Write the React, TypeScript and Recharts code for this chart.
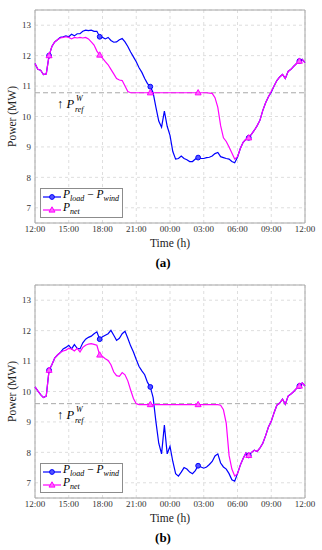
import React from "react";
import {
  LineChart,
  Line,
  XAxis,
  YAxis,
  CartesianGrid,
  ReferenceLine,
  ReferenceArea,
  Legend,
} from "recharts";

const SERIF = "'Liberation Serif', 'DejaVu Serif', serif";

// time axis: 12:00 (0 h) to 12:00 next day (24 h), 15 min steps
const hours = Array.from({ length: 97 }, (_, i) => i * 0.25);
const xTicks = [0, 3, 6, 9, 12, 15, 18, 21, 24];
const xTickLabels = ["12:00", "15:00", "18:00", "21:00", "00:00", "03:00", "06:00", "09:00", "12:00"];
const yTicks = [7, 8, 9, 10, 11, 12, 13];
const markerIdx = [5, 23, 41, 58, 76, 94];

// (a)
const loadA = [
  11.74, 11.55, 11.52, 11.38, 11.4, 12.0, 12.3, 12.45, 12.52, 12.6, 12.62, 12.65, 12.62,
  12.7, 12.65, 12.72, 12.72, 12.8, 12.84, 12.82, 12.84, 12.8, 12.8, 12.62, 12.6, 12.55,
  12.6, 12.5, 12.44, 12.45, 12.52, 12.56, 12.45, 12.3, 12.12, 11.96, 11.8, 11.6, 11.45,
  11.25, 11.08, 10.98, 10.78, 10.3, 9.85, 9.65, 10.18, 9.68, 9.38, 8.85, 8.6, 8.62, 8.7,
  8.62, 8.58, 8.52, 8.52, 8.6, 8.65, 8.62, 8.62, 8.65, 8.66, 8.7, 8.78, 8.82, 8.68, 8.65,
  8.62, 8.6, 8.52, 8.48, 8.66, 8.95, 9.15, 9.25, 9.3, 9.42, 9.55, 9.7, 9.88, 10.2, 10.45,
  10.65, 10.8, 11.0, 11.18, 11.3, 11.38, 11.25, 11.48, 11.55, 11.65, 11.74, 11.82, 11.88,
  11.77,
];
const netA = [
  11.74, 11.55, 11.52, 11.38, 11.4, 12.0, 12.3, 12.45, 12.52, 12.58, 12.6, 12.62, 12.6,
  12.55, 12.6, 12.58, 12.6, 12.58, 12.6, 12.55, 12.45, 12.35, 12.15, 12.02, 11.92, 11.8,
  11.7, 11.55, 11.4, 11.25, 11.2, 11.18, 11.0, 10.82, 10.78, 10.78, 10.78, 10.78, 10.78,
  10.78, 10.78, 10.78, 10.78, 10.78, 10.78, 10.78, 10.78, 10.78, 10.78, 10.78, 10.78,
  10.78, 10.78, 10.78, 10.78, 10.78, 10.78, 10.78, 10.78, 10.78, 10.78, 10.78, 10.77,
  10.76, 10.62, 10.3, 9.7, 9.3, 9.18, 9.0, 8.8, 8.6, 8.68, 8.95, 9.15, 9.25, 9.3, 9.42,
  9.55, 9.7, 9.88, 10.2, 10.45, 10.65, 10.82, 11.0, 11.18, 11.3, 11.38, 11.25, 11.48,
  11.55, 11.65, 11.74, 11.82, 11.88, 11.77,
];
const prefA = 10.78;

// (b)
const loadB = [
  10.15, 10.02, 9.9, 9.8, 9.85, 10.7, 10.88, 11.1, 11.2, 11.28, 11.4, 11.45, 11.52, 11.4,
  11.54, 11.42, 11.4, 11.6, 11.72, 11.78, 11.82, 11.9, 11.96, 11.72, 11.8, 11.85, 11.9,
  12.01, 11.85, 11.68, 11.75, 11.9, 11.98, 11.75, 11.5, 11.3, 11.05, 10.82, 10.68, 10.55,
  10.3, 10.15, 9.8, 9.0, 8.3, 7.95, 8.9, 7.95, 8.2, 7.7, 7.3, 7.22, 7.35, 7.5, 7.45, 7.35,
  7.3, 7.4, 7.56, 7.52, 7.48, 7.52, 7.6, 7.7, 7.88, 7.95, 7.65, 7.52, 7.45, 7.3, 7.1,
  7.05, 7.3, 7.58, 7.8, 7.98, 7.9, 8.0, 8.07, 8.03, 8.15, 8.3, 8.55, 8.83, 9.02, 9.3,
  9.55, 9.62, 9.75, 9.58, 9.85, 9.92, 10.0, 10.1, 10.18, 10.28, 10.18,
];
const netB = [
  10.15, 10.02, 9.9, 9.8, 9.85, 10.7, 10.88, 11.1, 11.2, 11.28, 11.33, 11.36, 11.42, 11.4,
  11.33, 11.42, 11.3, 11.45, 11.52, 11.56, 11.57, 11.55, 11.52, 11.2, 11.15, 11.08, 11.02,
  10.88, 10.64, 10.52, 10.5, 10.62, 10.55, 10.35, 10.05, 9.77, 9.6, 9.57, 9.57, 9.57,
  9.57, 9.57, 9.57, 9.57, 9.57, 9.57, 9.57, 9.57, 9.57, 9.57, 9.57, 9.57, 9.57, 9.57,
  9.57, 9.57, 9.57, 9.57, 9.57, 9.57, 9.57, 9.57, 9.57, 9.57, 9.57, 9.57, 9.55, 9.4,
  8.95, 7.9, 7.45, 7.22, 7.3, 7.58, 7.8, 7.98, 7.9, 8.0, 8.07, 8.03, 8.15, 8.3, 8.55,
  8.83, 9.02, 9.3, 9.55, 9.62, 9.75, 9.58, 9.85, 9.92, 10.0, 10.1, 10.18, 10.28, 10.18,
];
const prefB = 9.6;

const BLUE = "#0000ff";
const MAGENTA = "#ff00ff";

const circleDot = (props: any) => {
  const { cx, cy, index } = props;
  if (!markerIdx.includes(index)) return <g key={`c${index}`} />;
  return <circle key={`c${index}`} cx={cx} cy={cy} r={2.4} fill="#5555ff" stroke={BLUE} strokeWidth={1} />;
};

const triangleDot = (props: any) => {
  const { cx, cy, index } = props;
  if (!markerIdx.includes(index)) return <g key={`t${index}`} />;
  const pts = `${cx},${cy - 3.2} ${cx - 3},${cy + 2.1} ${cx + 3},${cy + 2.1}`;
  return <polygon key={`t${index}`} points={pts} fill="#ff66ff" stroke={MAGENTA} strokeWidth={1} />;
};

function LegendBox() {
  const row = { display: "flex", alignItems: "center", height: 13 };
  return (
    <div
      style={{
        border: "1px solid #8c8c8c",
        background: "#fff",
        padding: "1px 3px 1px 2px",
        fontFamily: SERIF,
        fontStyle: "italic",
        fontSize: 11.5,
        color: "#000",
        lineHeight: "13px",
        whiteSpace: "nowrap",
      }}
    >
      <div style={row}>
        <svg width={18} height={8} style={{ marginRight: 2 }}>
          <line x1={0} y1={4} x2={18} y2={4} stroke={BLUE} strokeWidth={1.2} />
          <circle cx={9} cy={4} r={2.4} fill="#5555ff" stroke={BLUE} />
        </svg>
        <span>
          P<sub style={{ fontSize: 8 }}>load</sub>
          <span style={{ fontStyle: "normal" }}> − </span>P<sub style={{ fontSize: 8 }}>wind</sub>
        </span>
      </div>
      <div style={row}>
        <svg width={18} height={8} style={{ marginRight: 2 }}>
          <line x1={0} y1={4} x2={18} y2={4} stroke={MAGENTA} strokeWidth={1.2} />
          <polygon points="9,0.8 6,6.1 12,6.1" fill="#ff66ff" stroke={MAGENTA} />
        </svg>
        <span>
          P<sub style={{ fontSize: 8 }}>net</sub>
        </span>
      </div>
    </div>
  );
}

const prefLabel = (props: any) => {
  const { viewBox } = props;
  const x = viewBox.x + 22;
  const y = viewBox.y + 15;
  return (
    <g>
      <text x={x} y={y} fontFamily={SERIF} fontSize={12.5} fill="#000">
        <tspan>↑ </tspan>
        <tspan fontStyle="italic">P</tspan>
      </text>
      <text x={x + 19} y={y - 6.5} fontFamily={SERIF} fontStyle="italic" fontSize={8} fill="#000">
        W
      </text>
      <text x={x + 18} y={y + 4} fontFamily={SERIF} fontStyle="italic" fontSize={8} fill="#000">
        ref
      </text>
    </g>
  );
};

const yLabel = (props: any) => {
  const { viewBox } = props;
  const cx = 12;
  const cy = viewBox.y + viewBox.height / 2;
  return (
    <text
      x={cx}
      y={cy}
      transform={`rotate(-90 ${cx} ${cy})`}
      textAnchor="middle"
      dominantBaseline="central"
      fontFamily={SERIF}
      fontSize={11.5}
      fill="#222"
    >
      Power (MW)
    </text>
  );
};

const xLabel = (props: any) => {
  const { viewBox } = props;
  return (
    <text
      x={viewBox.x + viewBox.width / 2}
      y={viewBox.y + 24}
      textAnchor="middle"
      fontFamily={SERIF}
      fontSize={11.5}
      fill="#222"
    >
      Time (h)
    </text>
  );
};

function Panel({
  load,
  net,
  pref,
  caption,
  top,
}: {
  load: number[];
  net: number[];
  pref: number;
  caption: string;
  top: number;
}) {
  const data = hours.map((t, i) => ({ t, load: load[i], net: net[i] }));
  return (
    <div style={{ position: "absolute", left: 0, top, width: 322, height: 275 }}>
      <LineChart width={322} height={275} data={data} margin={{ top: 10, right: 17, left: 0, bottom: 32 }}>
        <CartesianGrid stroke="#dedede" strokeDasharray="3 3" />
        <XAxis
          dataKey="t"
          type="number"
          domain={[0, 24]}
          ticks={xTicks}
          tickFormatter={(v: number) => xTickLabels[xTicks.indexOf(v)]}
          tickLine={false}
          axisLine={false}
          tickSize={0}
          tickMargin={3}
          height={20}
          interval={0}
          tick={{ fontSize: 9, fill: "#333", fontFamily: SERIF }}
          label={xLabel}
        />
        <YAxis
          type="number"
          domain={[6.5, 13.5]}
          ticks={yTicks}
          tickLine={false}
          axisLine={false}
          tickSize={0}
          tickMargin={4}
          width={35}
          interval={0}
          tick={{ fontSize: 9, fill: "#333", fontFamily: SERIF }}
          label={yLabel}
        />
        <ReferenceArea x1={0} x2={24} y1={6.5} y2={13.5} fill="none" stroke="#a6a6a6" strokeWidth={1} />
        <ReferenceLine y={pref} stroke="#a8a8a8" strokeDasharray="5 3" strokeWidth={1} label={prefLabel} />
        <Line
          dataKey="load"
          type="linear"
          stroke={BLUE}
          strokeWidth={1.2}
          dot={circleDot}
          activeDot={false}
          isAnimationActive={false}
        />
        <Line
          dataKey="net"
          type="linear"
          stroke={MAGENTA}
          strokeWidth={1.2}
          dot={triangleDot}
          activeDot={false}
          isAnimationActive={false}
        />
        <Legend
          layout="vertical"
          align="center"
          verticalAlign="middle"
          wrapperStyle={{ left: 40, top: 188, width: "auto" }}
          content={() => <LegendBox />}
        />
      </LineChart>
      <div
        style={{
          position: "absolute",
          left: 0,
          top: 255,
          width: 326,
          textAlign: "center",
          fontFamily: SERIF,
          fontWeight: "bold",
          fontSize: 13,
          color: "#000",
        }}
      >
        {caption}
      </div>
    </div>
  );
}

export default function App() {
  return (
    <div style={{ position: "absolute", left: 0, top: 0, width: 322, height: 550, background: "#fff" }}>
      <Panel load={loadA} net={netA} pref={prefA} caption="(a)" top={0} />
      <Panel load={loadB} net={netB} pref={prefB} caption="(b)" top={275} />
    </div>
  );
}
